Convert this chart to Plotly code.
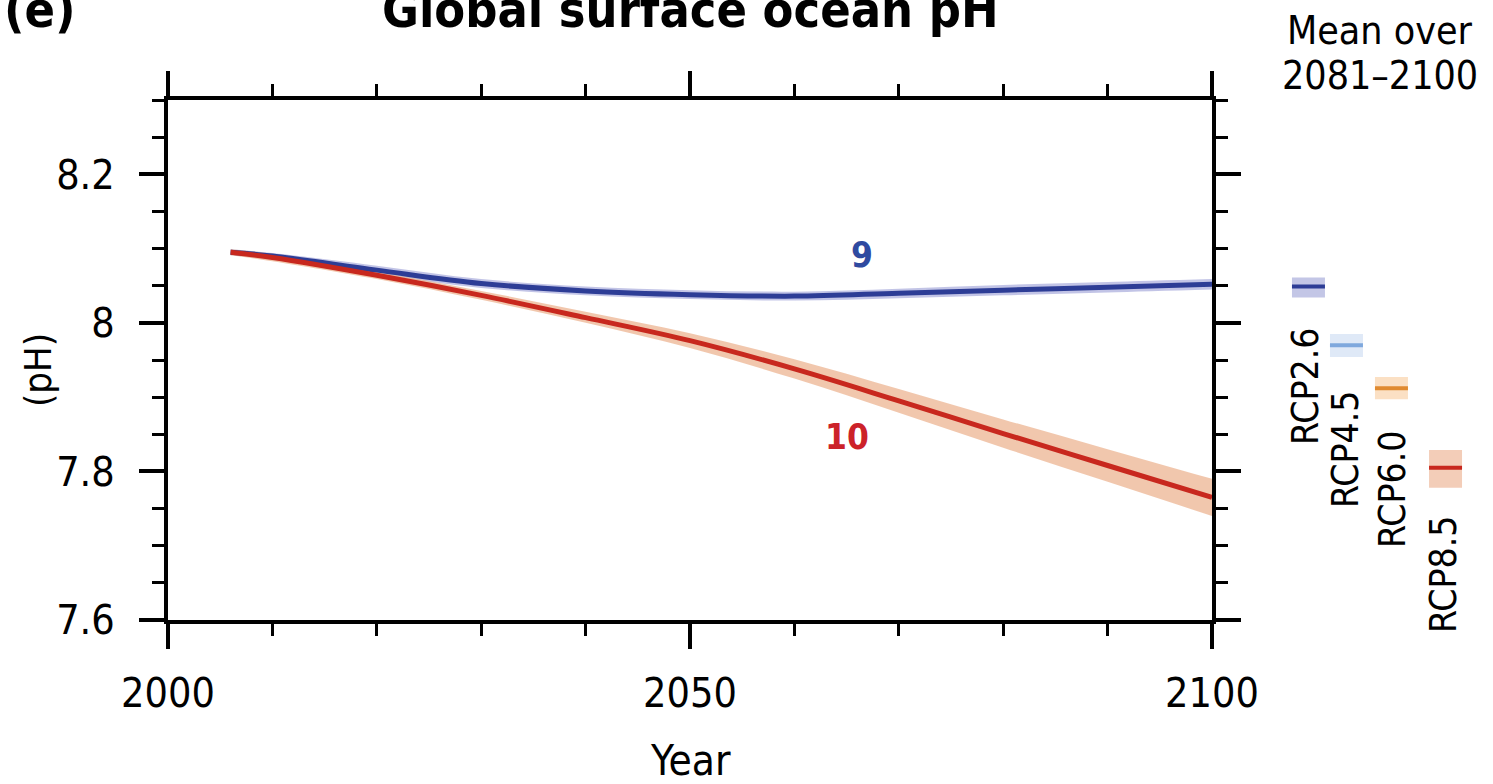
import plotly.graph_objects as go

# ---------------- data ----------------
years = [2006, 2010, 2020, 2030, 2040, 2050, 2060, 2070, 2080, 2090, 2100]

rcp26_mean = [8.095, 8.090, 8.071, 8.053, 8.043, 8.038, 8.036, 8.040, 8.044, 8.048, 8.052]
rcp26_low = [8.091, 8.085, 8.065, 8.047, 8.037, 8.032, 8.030, 8.033, 8.037, 8.041, 8.045]
rcp26_high = [8.099, 8.094, 8.077, 8.059, 8.049, 8.044, 8.042, 8.046, 8.051, 8.055, 8.059]

rcp85_mean = [8.095, 8.088, 8.064, 8.037, 8.007, 7.976, 7.938, 7.895, 7.851, 7.808, 7.765]
rcp85_low = [8.091, 8.083, 8.059, 8.031, 8.000, 7.966, 7.925, 7.879, 7.832, 7.786, 7.740]
rcp85_high = [8.099, 8.093, 8.069, 8.043, 8.015, 7.986, 7.951, 7.911, 7.870, 7.830, 7.790]

# mean over 2081-2100 (side bars)
scenarios = ["RCP2.6", "RCP4.5", "RCP6.0", "RCP8.5"]
bar_mean = [8.049, 7.970, 7.912, 7.805]
bar_low = [8.034, 7.954, 7.897, 7.778]
bar_high = [8.061, 7.985, 7.927, 7.829]

model_counts = ["9", "10"]
count_pos_x = [2066.5, 2065]
count_pos_y = [8.092, 7.846]

line_colors = ["#2d3d96", "#7fa8dd", "#e08a30", "#c8281e"]
band_colors = ["#c3c6e6", "#dfe9f7", "#fbe0c4", "#f3cdb8"]
count_colors = ["#2f4aa0", "#cc2229"]

FONT = "DejaVu Sans Condensed, Liberation Sans Narrow, sans-serif"

fig = go.Figure()

# bands (lower edge, then upper edge filled to it)
fig.add_trace(go.Scatter(x=years, y=rcp26_low, mode="lines",
                         line=dict(width=0, shape="spline"), hoverinfo="skip", showlegend=False))
fig.add_trace(go.Scatter(x=years, y=rcp26_high, mode="lines", fill="tonexty",
                         fillcolor="rgba(120,125,200,0.45)",
                         line=dict(width=0, shape="spline"), hoverinfo="skip", showlegend=False))
fig.add_trace(go.Scatter(x=years, y=rcp85_low, mode="lines",
                         line=dict(width=0, shape="spline"), hoverinfo="skip", showlegend=False))
fig.add_trace(go.Scatter(x=years, y=rcp85_high, mode="lines", fill="tonexty",
                         fillcolor="rgba(236,180,146,0.75)",
                         line=dict(width=0, shape="spline"), hoverinfo="skip", showlegend=False))
# mean lines
fig.add_trace(go.Scatter(x=years, y=rcp26_mean, mode="lines",
                         line=dict(color=line_colors[0], width=5, shape="spline"), showlegend=False))
fig.add_trace(go.Scatter(x=years, y=rcp85_mean, mode="lines",
                         line=dict(color=line_colors[3], width=5, shape="spline"), showlegend=False))

# model counts
for t, xx, yy, c in zip(model_counts, count_pos_x, count_pos_y, count_colors):
    fig.add_annotation(x=xx, y=yy, xref="x", yref="y", text="<b>%s</b>" % t, showarrow=False,
                       font=dict(family=FONT, size=35, color=c))

# side bars (mean over 2081-2100)
bar_x0 = [1.0766, 1.1130, 1.1561, 1.2079]
bar_w = 0.0316
for i in range(4):
    fig.add_shape(type="rect", xref="paper", yref="y", x0=bar_x0[i], x1=bar_x0[i] + bar_w,
                  y0=bar_low[i], y1=bar_high[i], fillcolor=band_colors[i], line=dict(width=0),
                  layer="above")
    fig.add_shape(type="line", xref="paper", yref="y", x0=bar_x0[i], x1=bar_x0[i] + bar_w,
                  y0=bar_mean[i], y1=bar_mean[i], line=dict(color=line_colors[i], width=4),
                  layer="above")

# scenario labels (rotated)
lab_x = [1.0891, 1.1274, 1.1724, 1.2213]
lab_y_top = [325, 388, 428, 513]
for s, lx, ly in zip(scenarios, lab_x, lab_y_top):
    fig.add_annotation(x=lx, y=(620 - ly) / 520, xref="paper", yref="paper", text=s,
                       textangle=-90, showarrow=False, xanchor="center", yanchor="top",
                       font=dict(family=FONT, size=37, color="black"))

# texts
fig.add_annotation(x=(690 - 168) / 1044, y=(620 - 10) / 520, xref="paper", yref="paper",
                   text="<b>Global surface ocean pH</b>", showarrow=False,
                   font=dict(family=FONT, size=50, color="black"), xanchor="center", yanchor="middle")
fig.add_annotation(x=(40 - 168) / 1044, y=(620 - 10) / 520, xref="paper", yref="paper",
                   text="<b>(e)</b>", showarrow=False,
                   font=dict(family=FONT, size=50, color="black"), xanchor="center", yanchor="middle")
fig.add_annotation(x=(1380 - 168) / 1044, y=(620 - 30) / 520, xref="paper", yref="paper",
                   text="Mean over", showarrow=False,
                   font=dict(family=FONT, size=39, color="black"), xanchor="center", yanchor="middle")
fig.add_annotation(x=(1380 - 168) / 1044, y=(620 - 76) / 520, xref="paper", yref="paper",
                   text="2081\u20132100", showarrow=False,
                   font=dict(family=FONT, size=39, color="black"), xanchor="center", yanchor="middle")
fig.add_annotation(x=(38 - 168) / 1044, y=(620 - 370) / 520, xref="paper", yref="paper",
                   text="(pH)", textangle=-90, showarrow=False,
                   font=dict(family=FONT, size=38, color="black"), xanchor="center", yanchor="middle")
fig.add_annotation(x=(690 - 168) / 1044, y=(620 - 760) / 520, xref="paper", yref="paper",
                   text="Year", showarrow=False,
                   font=dict(family=FONT, size=42, color="black"), xanchor="center", yanchor="middle")

axis_common = dict(showgrid=False, zeroline=False, showline=True, linecolor="black", linewidth=4,
                   mirror="allticks", ticks="outside", ticklen=25, tickwidth=4, tickcolor="black",
                   tickfont=dict(family=FONT, size=41, color="black"))

fig.update_xaxes(range=[2000, 2100], tick0=2000, dtick=50, ticklabelstandoff=9,
                 minor=dict(tick0=2000, dtick=10, ticks="outside", ticklen=12, tickwidth=3,
                            tickcolor="black", showgrid=False),
                 **axis_common)
fig.update_yaxes(range=[7.6, 8.3], tick0=7.6, dtick=0.2, ticklabelstandoff=16,
                 minor=dict(tick0=7.6, dtick=0.05, ticks="outside", ticklen=12, tickwidth=3,
                            tickcolor="black", showgrid=False),
                 **axis_common)

fig.update_layout(width=1493, height=784, margin=dict(l=168, r=281, t=100, b=164),
                  paper_bgcolor="white", plot_bgcolor="white", showlegend=False,
                  font=dict(family=FONT))

fig.write_html("out.html")
